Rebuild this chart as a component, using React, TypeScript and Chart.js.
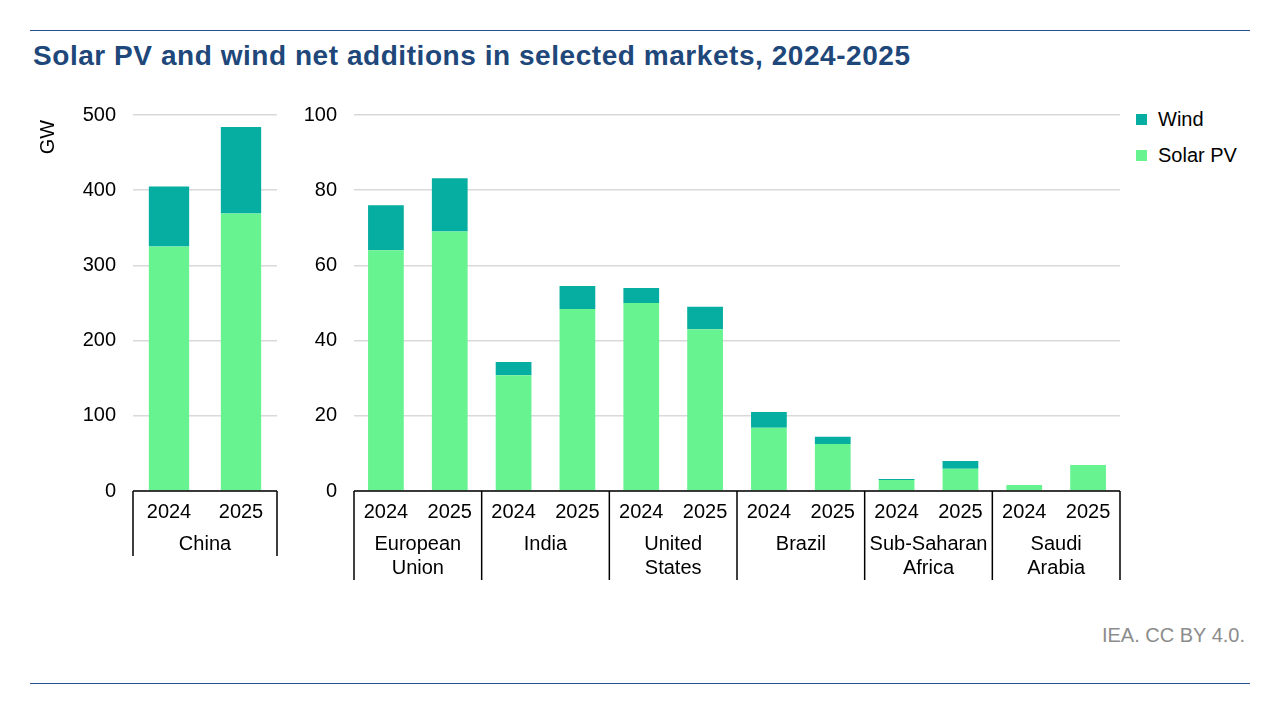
import React, { useEffect, useRef } from "react";
import { Chart, registerables } from "chart.js";

Chart.register(...registerables);

const WIND_COLOR = "#06ada1";
const SOLAR_COLOR = "#68f391";

const CHINA_YEARS = ["2024", "2025"];
const CHINA_GROUPS = [["China"]];
const CHINA_SOLAR = [325, 369];
const CHINA_WIND = [80, 115];
const CHINA_TICKS = [0, 100, 200, 300, 400, 500];

const MARKET_YEARS = ["2024", "2025", "2024", "2025", "2024", "2025", "2024", "2025", "2024", "2025", "2024", "2025"];
const MARKET_GROUPS = [["European", "Union"], ["India"], ["United", "States"], ["Brazil"], ["Sub-Saharan", "Africa"], ["Saudi", "Arabia"]];
const MARKET_SOLAR = [64, 69, 30.8, 48.4, 50, 43, 16.8, 12.5, 2.9, 5.9, 1.6, 6.9];
const MARKET_WIND = [12, 14.2, 3.5, 6.1, 4, 6, 4.2, 1.9, 0.3, 2.1, 0, 0];
const MARKET_TICKS = [0, 20, 40, 60, 80, 100];

const FONT = "'Liberation Sans', Arial, sans-serif";

const groupAxisPlugin = {
  id: "groupAxis",
  afterDraw(chart: any, _args: any, opts: any) {
    const ctx = chart.ctx;
    const area = chart.chartArea;
    const xs = chart.scales.x;
    const groups: string[][] = opts.groups || [];
    const step = xs.getPixelForValue(1) - xs.getPixelForValue(0);
    const half = step / 2;
    ctx.save();
    ctx.strokeStyle = "#000";
    ctx.lineWidth = 1.5;
    ctx.beginPath();
    ctx.moveTo(area.left, area.bottom);
    ctx.lineTo(area.right, area.bottom);
    ctx.stroke();
    ctx.font = "20px " + FONT;
    ctx.fillStyle = "#000";
    ctx.textAlign = "center";
    ctx.textBaseline = "middle";
    groups.forEach((lines, g) => {
      const i0 = g * 2;
      const i1 = g * 2 + 1;
      const left = xs.getPixelForValue(i0) - half;
      const right = xs.getPixelForValue(i1) + half;
      ctx.beginPath();
      ctx.moveTo(left, area.bottom);
      ctx.lineTo(left, area.bottom + opts.sepLen);
      if (g === groups.length - 1) {
        ctx.moveTo(right, area.bottom);
        ctx.lineTo(right, area.bottom + opts.sepLen);
      }
      ctx.stroke();
      const cx = (left + right) / 2;
      lines.forEach((t, k) => {
        ctx.fillText(t, cx, area.bottom + 53 + k * 24);
      });
    });
    if (opts.yTitle) {
      ctx.save();
      ctx.translate(opts.yTitleX, opts.yTitleY);
      ctx.rotate(-Math.PI / 2);
      ctx.fillText(opts.yTitle, 0, 0);
      ctx.restore();
    }
    ctx.restore();
  },
};

function makeConfig(
  years: string[],
  solar: number[],
  wind: number[],
  ticks: number[],
  groups: string[][],
  yWidth: number,
  padRight: number,
  sepLen: number,
  yTitle: string | null
): any {
  const max = ticks[ticks.length - 1];
  const stepSize = ticks[1] - ticks[0];
  return {
    type: "bar",
    data: {
      labels: years,
      datasets: [
        { label: "Solar PV", data: solar, backgroundColor: SOLAR_COLOR, stack: "s", barPercentage: 0.56, categoryPercentage: 1 },
        { label: "Wind", data: wind, backgroundColor: WIND_COLOR, stack: "s", barPercentage: 0.56, categoryPercentage: 1 },
      ],
    },
    options: {
      animation: false,
      responsive: false,
      maintainAspectRatio: false,
      layout: { padding: { top: 0, right: padRight, left: 0, bottom: 0 } },
      plugins: {
        legend: { display: false },
        tooltip: { enabled: false },
        groupAxis: { groups, sepLen, yTitle, yTitleX: 18, yTitleY: 51 },
      },
      scales: {
        x: {
          stacked: true,
          grid: { display: false, drawTicks: false },
          border: { display: false },
          ticks: { autoSkip: false, maxRotation: 0, padding: 9, color: "#000", font: { family: FONT, size: 20 } },
          afterFit: (s: any) => { s.height = 109; },
        },
        y: {
          stacked: true,
          min: 0,
          max,
          afterBuildTicks: (s: any) => { s.ticks = ticks.map((v) => ({ value: v })); },
          ticks: { stepSize, padding: 17, color: "#000", font: { family: FONT, size: 20 } },
          grid: { color: "#d9d9d9", lineWidth: 1.5, drawTicks: false },
          border: { display: false },
          afterFit: (s: any) => { s.width = yWidth; },
        },
      },
    },
    plugins: [groupAxisPlugin],
  };
}

function ChartCanvas({ config, style, width, height }: any) {
  const ref = useRef<HTMLCanvasElement>(null);
  useEffect(() => {
    const chart = new Chart(ref.current as HTMLCanvasElement, config);
    return () => chart.destroy();
  }, []);
  return <canvas ref={ref} width={width} height={height} style={{ position: "absolute", width, height, ...style }} />;
}

export default function App() {
  const chinaCfg = makeConfig(CHINA_YEARS, CHINA_SOLAR, CHINA_WIND, CHINA_TICKS, CHINA_GROUPS, 103, 13, 65, "GW");
  const marketCfg = makeConfig(MARKET_YEARS, MARKET_SOLAR, MARKET_WIND, MARKET_TICKS, MARKET_GROUPS, 64, 10, 89, null);
  const legendItems = [
    { label: "Wind", color: WIND_COLOR, y: 119 },
    { label: "Solar PV", color: SOLAR_COLOR, y: 155 },
  ];
  return (
    <div style={{ position: "fixed", left: 0, top: 0, width: 1280, height: 714, background: "#fff", fontFamily: FONT, overflow: "hidden" }}>
      <div style={{ position: "absolute", left: 30, top: 30, width: 1220, height: 1, background: "#24508f" }} />
      <div style={{ position: "absolute", left: 33, top: 40, fontSize: 28, lineHeight: "32px", letterSpacing: 0.55, fontWeight: "bold", color: "#20477a", whiteSpace: "nowrap" }}>
        Solar PV and wind net additions in selected markets, 2024-2025
      </div>
      <ChartCanvas config={chinaCfg} width={260} height={514} style={{ left: 30, top: 86 }} />
      <ChartCanvas config={marketCfg} width={840} height={514} style={{ left: 290, top: 86 }} />
      {legendItems.map((it) => (
        <div key={it.label} style={{ position: "absolute", left: 1136, top: it.y - 12, height: 24, display: "flex", alignItems: "center", fontSize: 20, color: "#000", whiteSpace: "nowrap" }}>
          <span style={{ display: "inline-block", width: 11, height: 11, background: it.color, marginRight: 11 }} />
          {it.label}
        </div>
      ))}
      <div style={{ position: "absolute", right: 35, top: 624, fontSize: 20, color: "#8c8c8c", whiteSpace: "nowrap" }}>IEA. CC BY 4.0.</div>
      <div style={{ position: "absolute", left: 30, top: 683, width: 1220, height: 1, background: "#24508f" }} />
    </div>
  );
}
